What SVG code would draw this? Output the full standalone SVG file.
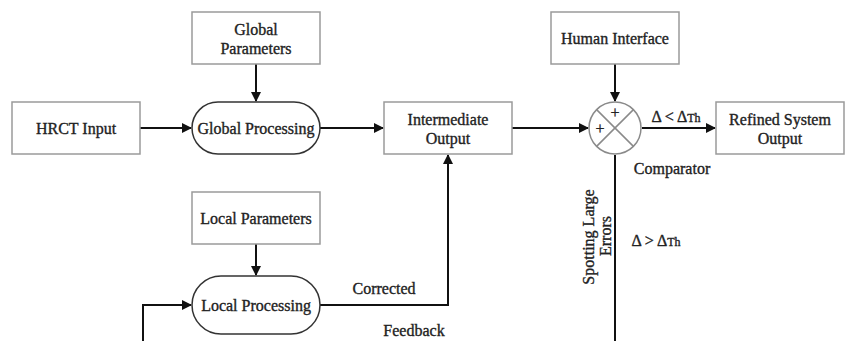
<svg xmlns="http://www.w3.org/2000/svg" width="846" height="341" viewBox="0 0 846 341">
<defs>
<style>
.box{fill:#fff;stroke:#9a9a9a;stroke-width:1.5}
.pill{fill:#fff;stroke:#333;stroke-width:1.5}
.t{font-family:"Liberation Serif","DejaVu Serif",serif;font-size:16px;fill:#222;stroke:#222;stroke-width:0.35;text-anchor:middle}
.l{fill:none;stroke:#111;stroke-width:2}
.g{stroke:#8a8a8a;stroke-width:1.5;fill:none}
</style>
<marker id="ah" markerWidth="10" markerHeight="10" refX="9" refY="5" orient="auto" markerUnits="userSpaceOnUse">
<path d="M0,0 L10,5 L0,10 Z" fill="#111"/>
</marker>
</defs>
<rect width="846" height="341" fill="#fff"/>
<g id="connectors">
<line class="l" x1="140" y1="128" x2="191" y2="128" marker-end="url(#ah)"/>
<line class="l" x1="256" y1="64" x2="256" y2="101" marker-end="url(#ah)"/>
<line class="l" x1="320" y1="128" x2="383" y2="128" marker-end="url(#ah)"/>
<line class="l" x1="512" y1="128" x2="588" y2="128" marker-end="url(#ah)"/>
<line class="l" x1="615" y1="64" x2="615" y2="101" marker-end="url(#ah)"/>
<line class="l" x1="642" y1="128" x2="715" y2="128" marker-end="url(#ah)"/>
<line class="l" x1="615" y1="155" x2="615" y2="341"/>
<line class="l" x1="256" y1="244" x2="256" y2="275" marker-end="url(#ah)"/>
<polyline class="l" points="320,305 448,305 448,155" marker-end="url(#ah)"/>
<polyline class="l" points="143,341 143,305 191,305" marker-end="url(#ah)"/>
<text class="t" x="384" y="294">Corrected</text>
<text class="t" x="414" y="336">Feedback</text>
<text class="t" x="676" y="122">Δ &lt; Δ<tspan font-size="12">Th</tspan></text>
<text class="t" x="656" y="246">Δ &gt; Δ<tspan font-size="12">Th</tspan></text>
<text class="t" x="672" y="174">Comparator</text>
<text class="t" transform="translate(594,237) rotate(-90)">Spotting Large</text>
<text class="t" transform="translate(611,236) rotate(-90)">Errors</text>
</g>
<g id="hrct">
<rect class="box" x="12" y="102" width="128" height="52"/>
<text class="t" x="76" y="134">HRCT Input</text>
</g>
<g id="global-params">
<rect class="box" x="192" y="12" width="128" height="52"/>
<text class="t" x="256" y="35">Global</text>
<text class="t" x="256" y="54">Parameters</text>
</g>
<g id="global-proc">
<rect class="pill" x="192" y="102" width="128" height="52" rx="26"/>
<text class="t" x="256" y="134">Global Processing</text>
</g>
<g id="intermediate">
<rect class="box" x="384" y="102" width="128" height="52"/>
<text class="t" x="448" y="125">Intermediate</text>
<text class="t" x="448" y="144">Output</text>
</g>
<g id="human">
<rect class="box" x="551" y="12" width="128" height="52"/>
<text class="t" x="615" y="44">Human Interface</text>
</g>
<g id="comparator">
<circle class="g" cx="615" cy="128" r="26" fill="#fff"/>
<line class="g" x1="596.6" y1="109.6" x2="633.4" y2="146.4"/>
<line class="g" x1="633.4" y1="109.6" x2="596.6" y2="146.4"/>
<text class="t" x="615" y="118" font-size="13">+</text>
<text class="t" x="600" y="134" font-size="13">+</text>
</g>
<g id="refined">
<rect class="box" x="716" y="102" width="128" height="52"/>
<text class="t" x="780" y="125">Refined System</text>
<text class="t" x="780" y="144">Output</text>
</g>
<g id="local-params">
<rect class="box" x="192" y="192" width="128" height="52"/>
<text class="t" x="256" y="224">Local Parameters</text>
</g>
<g id="local-proc">
<rect class="pill" x="192" y="276" width="128" height="58" rx="29"/>
<text class="t" x="256" y="311">Local Processing</text>
</g>
</svg>
